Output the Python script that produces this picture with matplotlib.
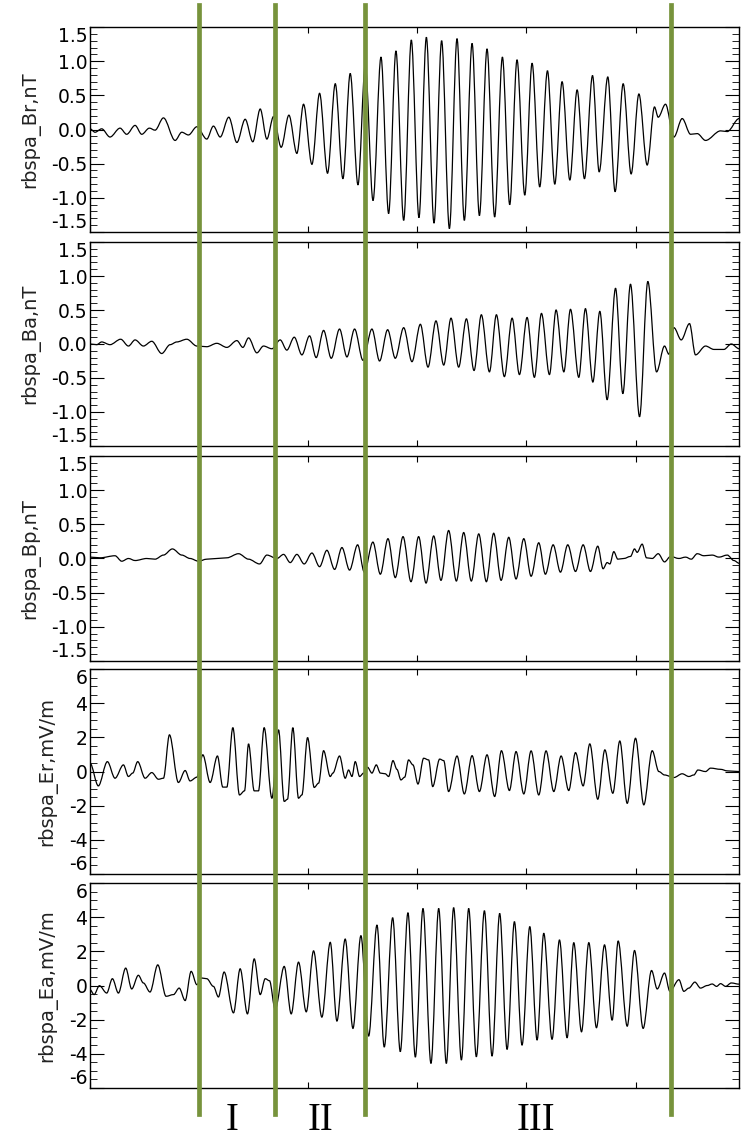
"""Waveforms rbspa B/E components with interval markers I-III."""

import matplotlib
matplotlib.use("Agg")
import matplotlib.pyplot as plt
from matplotlib.lines import Line2D
from matplotlib.patches import PathPatch
from matplotlib.path import Path
from matplotlib.ticker import MultipleLocator
from matplotlib.transforms import blended_transform_factory

plt.rcParams["font.family"] = ["DejaVu Sans"]
plt.rcParams["axes.unicode_minus"] = False

# time (s) and value at the turning points of each trace
br_t = [0.00, 0.046, 0.107, 0.183, 0.275, 0.336, 0.413, 0.474, 0.544, 0.596,
        0.673, 0.780, 0.841, 0.902, 0.979, 1.070, 1.131, 1.193, 1.272, 1.346,
        1.422, 1.492, 1.560, 1.621, 1.682, 1.752, 1.823, 1.896, 1.957, 2.034,
        2.104, 2.177, 2.248, 2.318, 2.385, 2.456, 2.523,
        2.594, 2.667, 2.737, 2.804, 2.875, 2.945, 3.015, 3.083, 3.153, 3.223,
        3.294, 3.364, 3.431, 3.502, 3.569, 3.639, 3.709, 3.780, 3.847, 3.914,
        3.985, 4.052, 4.122, 4.193, 4.260, 4.327, 4.398, 4.465, 4.532, 4.606,
        4.667, 4.746, 4.813, 4.887, 4.960, 5.031, 5.107, 5.174, 5.208, 5.275,
        5.352, 5.428, 5.505, 5.566, 5.642, 5.780, 5.841, 5.950]
br_v = [0.01, -0.04, 0.01, -0.11, 0.02, -0.07, 0.06, -0.07, 0.02, -0.01,
        0.17, -0.16, -0.04, -0.08, 0.04, -0.14, 0.05, -0.11, 0.18, -0.19,
        0.15, -0.18, 0.30, -0.14, 0.19, -0.26, 0.21, -0.35, 0.37, -0.51,
        0.53, -0.64, 0.67, -0.72, 0.82, -0.81, 0.94,
        -1.04, 1.06, -1.23, 1.15, -1.33, 1.31, -1.29, 1.35, -1.37, 1.30,
        -1.45, 1.33, -1.33, 1.26, -1.26, 1.18, -1.28, 1.06, -1.10, 1.02,
        -0.96, 0.97, -0.84, 0.86, -0.80, 0.70, -0.74, 0.58, -0.72, 0.79,
        -0.62, 0.77, -0.91, 0.67, -0.65, 0.52, -0.52, 0.33, 0.18, 0.37,
        -0.11, 0.16, -0.07, -0.06, -0.16, -0.02, -0.03, 0.16]

ba_t = [0.00, 0.061, 0.107, 0.183, 0.281, 0.352, 0.413, 0.489, 0.566, 0.657,
        0.734, 0.795, 0.887, 0.979, 1.070, 1.162, 1.254, 1.346, 1.401, 1.453,
        1.529, 1.590, 1.667, 1.743, 1.804, 1.872, 1.942, 2.012, 2.073, 2.141,
        2.211, 2.287, 2.355, 2.425, 2.502,
        2.584, 2.654, 2.728, 2.798, 2.875, 2.951, 3.028, 3.098, 3.171, 3.242,
        3.309, 3.379, 3.450, 3.520, 3.587, 3.661, 3.725, 3.798, 3.869, 3.936,
        4.006, 4.073, 4.138, 4.211, 4.272, 4.343, 4.404, 4.480, 4.541, 4.609,
        4.673, 4.740, 4.817, 4.884, 4.954, 5.037, 5.113, 5.193, 5.266, 5.306,
        5.352, 5.419, 5.495, 5.550, 5.642, 5.719, 5.810, 5.878, 5.950]
ba_v = [0.00, -0.01, 0.03, -0.01, 0.07, -0.03, 0.06, -0.03, 0.04, -0.14,
        -0.01, 0.03, 0.07, -0.03, -0.04, 0.01, -0.05, 0.05, -0.05, 0.09,
        -0.13, -0.03, -0.07, 0.06, -0.09, 0.10, -0.16, 0.12, -0.20, 0.20,
        -0.21, 0.22, -0.19, 0.22, -0.24,
        0.22, -0.25, 0.21, -0.21, 0.24, -0.26, 0.29, -0.34, 0.34, -0.31,
        0.38, -0.34, 0.37, -0.39, 0.43, -0.41, 0.43, -0.48, 0.38, -0.45,
        0.39, -0.49, 0.45, -0.45, 0.50, -0.41, 0.51, -0.49, 0.52, -0.56,
        0.48, -0.82, 0.82, -0.73, 0.88, -1.07, 0.92, -0.41, -0.03, -0.15,
        0.24, 0.06, 0.30, -0.16, -0.03, -0.08, -0.08, 0.00, -0.07]

bp_t = [0.00, 0.092, 0.229, 0.291, 0.352, 0.413, 0.520, 0.596, 0.673, 0.755,
        0.841, 0.917, 0.994, 1.070, 1.162, 1.254, 1.361, 1.453, 1.554, 1.621,
        1.713, 1.774, 1.835, 1.896, 1.963, 2.034, 2.104, 2.171, 2.242, 2.309,
        2.379, 2.453, 2.514,
        2.593, 2.661, 2.731, 2.798, 2.869, 2.942, 3.012, 3.080, 3.150, 3.217,
        3.287, 3.358, 3.425, 3.495, 3.563, 3.633, 3.700, 3.768, 3.838, 3.905,
        3.976, 4.043, 4.113, 4.174, 4.245, 4.312, 4.379, 4.450, 4.520, 4.587,
        4.654, 4.703, 4.740, 4.765, 4.801, 4.838, 4.893, 4.954, 4.991, 5.015,
        5.061, 5.101, 5.153, 5.208, 5.266, 5.321, 5.398, 5.459, 5.511, 5.566,
        5.627, 5.703, 5.765, 5.841, 5.902, 5.950]
bp_v = [0.02, 0.01, 0.04, -0.04, 0.00, -0.03, 0.00, -0.01, 0.05, 0.14,
        0.05, 0.00, -0.04, -0.01, 0.00, 0.01, 0.07, -0.01, -0.08, 0.05,
        0.00, 0.06, -0.06, 0.06, -0.08, 0.08, -0.12, 0.12, -0.16, 0.16,
        -0.17, 0.20, -0.20,
        0.24, -0.23, 0.29, -0.28, 0.32, -0.34, 0.32, -0.36, 0.33, -0.32,
        0.41, -0.33, 0.38, -0.33, 0.36, -0.34, 0.37, -0.32, 0.31, -0.30,
        0.29, -0.26, 0.23, -0.23, 0.20, -0.20, 0.20, -0.19, 0.20, -0.19,
        0.18, -0.15, -0.06, -0.08, 0.10, -0.01, 0.00, 0.03, 0.14, 0.09,
        0.21, 0.01, 0.00, 0.07, -0.05, 0.03, 0.00, 0.02, -0.01, 0.07,
        0.04, 0.05, 0.02, 0.05, -0.03, -0.07]

er_t = [0.00, 0.076, 0.159, 0.229, 0.306, 0.352, 0.391, 0.437, 0.505, 0.566,
        0.627, 0.673, 0.728, 0.810, 0.872, 0.917, 0.979, 1.034, 1.101, 1.168,
        1.217, 1.254, 1.309, 1.370, 1.416, 1.453, 1.505, 1.544, 1.596, 1.667,
        1.728, 1.780, 1.810, 1.859, 1.911, 1.942, 1.994, 2.055, 2.095, 2.141,
        2.202, 2.226, 2.287, 2.339, 2.370, 2.401, 2.431, 2.471,
        2.508, 2.544, 2.584, 2.624, 2.661, 2.706, 2.737, 2.777, 2.813, 2.850,
        2.884, 2.920, 2.960, 3.006, 3.058, 3.104, 3.141, 3.205, 3.242, 3.287,
        3.364, 3.431, 3.502, 3.569, 3.639, 3.709, 3.771, 3.844, 3.905, 3.976,
        4.043, 4.113, 4.180, 4.251, 4.318, 4.388, 4.450, 4.520, 4.581, 4.654,
        4.719, 4.792, 4.856, 4.924, 5.000, 5.076, 5.153, 5.214, 5.266, 5.352,
        5.428, 5.489, 5.535, 5.572, 5.642, 5.688, 5.780, 5.841, 5.950]
er_v = [0.49, -0.84, 0.58, -0.39, 0.39, -0.29, -0.09, 0.58, -0.39, -0.06,
        -0.45, -0.39, 2.15, -0.64, 0.06, -0.55, -0.33, 0.98, -0.64, 0.91,
        -0.91, -0.91, 2.57, -1.37, -1.13, 1.62, -1.13, -1.13, 2.57, -1.56,
        2.44, -1.75, -1.62, 2.57, -1.56, -1.37, 1.99, -0.93, -0.68, 1.22,
        -0.29, -0.09, 0.91, -0.39, 0.09, -0.29, 0.58, -0.29,
        -0.09, 0.25, -0.09, 0.39, -0.09, -0.13, -0.29, 0.64, 0.13, -0.49,
        -0.33, 0.68, 0.39, -0.73, 0.78, 0.68, -0.88, 0.73, 0.64, -1.17,
        0.91, -1.31, 0.93, -1.17, 0.98, -1.46, 1.22, -1.11, 1.17, -1.31,
        1.21, -1.37, 1.21, -1.17, 0.91, -1.11, 1.11, -0.84, 1.62, -1.62,
        1.27, -1.27, 1.79, -1.86, 1.95, -1.95, 1.22, 0.00, -0.20, -0.35,
        -0.13, -0.29, -0.20, 0.09, 0.00, 0.20, 0.13, 0.04, 0.00]

ea_t = [0.00, 0.037, 0.086, 0.153, 0.205, 0.260, 0.327, 0.382, 0.443, 0.489,
        0.550, 0.621, 0.697, 0.765, 0.817, 0.872, 0.927, 0.979, 1.024, 1.070,
        1.131, 1.177, 1.229, 1.315, 1.376, 1.443, 1.505, 1.560, 1.606, 1.645,
        1.697, 1.780, 1.844, 1.911, 1.982, 2.049, 2.125, 2.202, 2.263, 2.339,
        2.410, 2.483, 2.554,
        2.630, 2.697, 2.774, 2.844, 2.914, 2.982, 3.052, 3.125, 3.196, 3.266,
        3.333, 3.404, 3.471, 3.541, 3.615, 3.685, 3.755, 3.823, 3.890, 3.960,
        4.031, 4.098, 4.159, 4.235, 4.303, 4.373, 4.434, 4.505, 4.572, 4.642,
        4.716, 4.786, 4.841, 4.924, 4.991, 5.070, 5.147, 5.199, 5.266, 5.315,
        5.398, 5.443, 5.489, 5.544, 5.596, 5.657, 5.703, 5.743, 5.780, 5.826,
        5.878, 5.950]
ea_v = [-0.24, -0.53, -0.01, -0.44, 0.40, -0.44, 1.02, -0.20, 0.60, 0.15,
        -0.38, 1.21, -0.63, -0.53, -0.15, -0.88, 0.83, 0.05, 0.44, 0.40,
        -0.05, -0.67, 0.79, -1.60, 0.98, -1.66, 1.56, -0.53, 0.40, 0.28,
        -1.40, 1.12, -1.66, 1.37, -1.54, 2.03, -1.85, 2.53, -2.08, 2.72,
        -2.51, 2.92, -2.96,
        3.54, -3.60, 3.97, -3.87, 4.26, -4.19, 4.51, -4.56, 4.51, -4.56,
        4.56, -4.36, 4.51, -4.17, 4.38, -4.13, 4.22, -3.74, 3.74, -3.49,
        3.45, -3.19, 3.06, -3.15, 2.67, -3.06, 2.51, -2.71, 2.51, -2.47,
        2.38, -2.03, 2.61, -2.38, 2.05, -2.51, 0.88, -0.20, 0.73, -0.34,
        0.34, -0.34, -0.15, 0.20, -0.15, 0.00, 0.09, -0.05, 0.11, -0.05,
        0.15, 0.08]

panel_labels = ["rbspa_Br,nT", "rbspa_Ba,nT", "rbspa_Bp,nT",
                "rbspa_Er,mV/m", "rbspa_Ea,mV/m"]
panel_data = [(br_t, br_v), (ba_t, ba_v), (bp_t, bp_v), (er_t, er_v), (ea_t, ea_v)]
panel_ylim = [1.5, 1.5, 1.5, 6.0, 6.0]
panel_step = [(0.5, 0.1), (0.5, 0.1), (0.5, 0.1), (2.0, 0.5), (2.0, 0.5)]

t_end = 5.95
boundaries = [1.003, 1.697, 2.523, 5.321]
region_names = ["I", "II", "III"]
region_t = [1.303, 2.117, 4.089]

GREEN = "#77933C"


def smooth_path(t, v):
    # cubic segments with flat tangents at each turning point
    verts = [(t[0], v[0])]
    codes = [Path.MOVETO]
    for i in range(1, len(t)):
        dt = t[i] - t[i - 1]
        verts += [(t[i - 1] + dt / 3, v[i - 1]), (t[i] - dt / 3, v[i]), (t[i], v[i])]
        codes += [Path.CURVE4] * 3
    return Path(verts, codes)


fig = plt.figure(figsize=(7.41, 11.40), dpi=100)
bottoms = [0.7965, 0.6088, 0.4202, 0.2333, 0.0456]
heights = [0.1798, 0.1789, 0.1798, 0.1798, 0.1798]

axes = []
for k in range(5):
    ax = fig.add_axes([0.1215, bottoms[k], 0.876, heights[k]])
    t, v = panel_data[k]
    ax.add_patch(PathPatch(smooth_path(t, v), fill=False, ec="black", lw=0.9))
    lim = panel_ylim[k]
    ax.set_xlim(0, t_end)
    ax.set_ylim(-lim, lim)
    major, minor = panel_step[k]
    ax.yaxis.set_major_locator(MultipleLocator(major))
    ax.yaxis.set_minor_locator(MultipleLocator(minor))
    ax.xaxis.set_major_locator(MultipleLocator(1.0))
    if major < 1:
        ax.yaxis.set_major_formatter(plt.FormatStrFormatter("%.1f"))
    else:
        ax.yaxis.set_major_formatter(plt.FormatStrFormatter("%d"))
    ax.tick_params(axis="both", which="both", direction="in", top=True, right=True,
                   labelsize=13.5, pad=2)
    ax.tick_params(axis="x", which="major", length=4, labelbottom=False)
    ax.tick_params(axis="y", which="major", length=10)
    ax.tick_params(axis="y", which="minor", length=5)
    for s in ax.spines.values():
        s.set_linewidth(1.0)
    ax.set_ylabel(panel_labels[k], fontsize=14, labelpad=8, color="#222222")
    fig.canvas.draw()
    labs = ax.get_yticklabels()
    for lab in labs:
        if lab.get_position()[1] <= -lim + 1e-6:
            lab.set_verticalalignment("bottom")
        elif lab.get_position()[1] >= lim - 1e-6:
            lab.set_verticalalignment("top")
    axes.append(ax)

ax5 = axes[-1]
trans = blended_transform_factory(ax5.transData, fig.transFigure)
for b in boundaries:
    fig.add_artist(Line2D([b, b], [0.0228, 0.9956], transform=trans,
                          color=GREEN, lw=3.4, clip_on=False, zorder=10))

for name, tx in zip(region_names, region_t):
    fig.text(tx, 0.0085, name, transform=trans, ha="center", va="baseline",
             fontsize=28, family="Liberation Serif", color="black")

fig.savefig("out.png", dpi=100)
